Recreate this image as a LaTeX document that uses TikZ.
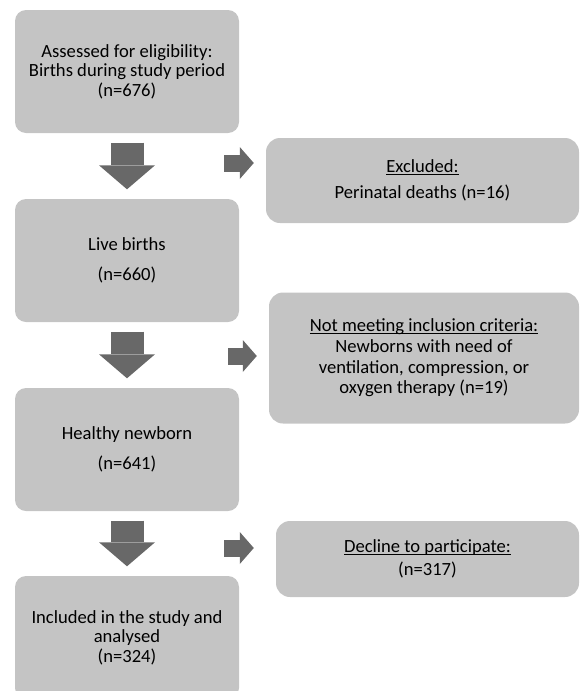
\documentclass[tikz,border=0pt]{standalone}
\usepackage{fontspec}
\setmainfont{Carlito}
\usetikzlibrary{arrows.meta}
\definecolor{kastengrau}{HTML}{C4C4C4}
\definecolor{pfeilgrau}{HTML}{686868}
\newcommand\unterstr[1]{\setbox0\hbox{#1}\rlap{\rule[-2.4pt]{\wd0}{0.9pt}}\box0}

\tikzset{
    kasten/.style={rectangle, rounded corners=11pt, fill=kastengrau, align=center, inner sep=0pt,
        minimum width=224pt, minimum height=123pt, font=\fontsize{18.6}{19.6}\selectfont},
    seite/.style={kasten, rounded corners=14pt},
    pfeil/.style={draw=pfeilgrau, line width=33pt, -{Triangle[width=56pt,length=24pt,line width=0pt]},
        shorten <=9.5pt, shorten >=9.5pt},
    kpfeil/.style={draw=pfeilgrau, line width=17pt, -{Triangle[width=32pt,length=14pt,line width=0pt]}}
}

\begin{document}
\begin{tikzpicture}[x=1pt, y=-1pt]
    \useasboundingbox (0,0) rectangle (580,691);
    \path node[kasten] (geburten) at (127,71.5) {Assessed for eligibility:\\Births during study period\\(n=676)}
        node[kasten] (lebend) at (127,260.5) {Live births\\[10pt](n=660)}
        node[kasten] (gesund) at (127,449.5) {Healthy newborn\\[10pt](n=641)}
        node[kasten] (studie) at (127,637.5) {Included in the study and\\analysed\\(n=324)}
        node[seite, minimum width=313pt, minimum height=85pt] (ausgeschl) at (422.5,180.5)
            {\unterstr{Excluded:}\\[7pt]Perinatal deaths (n=16)}
        node[seite, minimum width=310pt, minimum height=131pt] (kriterien) at (424,358)
            {\unterstr{Not meeting inclusion criteria:}\\[1pt]Newborns with need of\\[1pt]ventilation, compression, or\\[1pt]oxygen therapy (n=19)}
        node[seite, minimum width=303pt, minimum height=76pt] (abgelehnt) at (427.5,559)
            {\unterstr{Decline to participate:}\\[4pt](n=317)};
    \coordinate (a1) at (224,163);
    \coordinate (a2) at (228,356);
    \coordinate (a3) at (224,548);
    \draw[pfeil] (geburten) -- (lebend);
    \draw[pfeil] (lebend) -- (gesund);
    \draw[pfeil] (gesund) -- (studie);
    \draw[kpfeil, shorten >=12pt] (a1) -- (a1 -| ausgeschl.west);
    \draw[kpfeil, shorten >=12pt] (a2) -- (a2 -| kriterien.west);
    \draw[kpfeil, shorten >=22pt] (a3) -- (a3 -| abgelehnt.west);
\end{tikzpicture}
\end{document}
